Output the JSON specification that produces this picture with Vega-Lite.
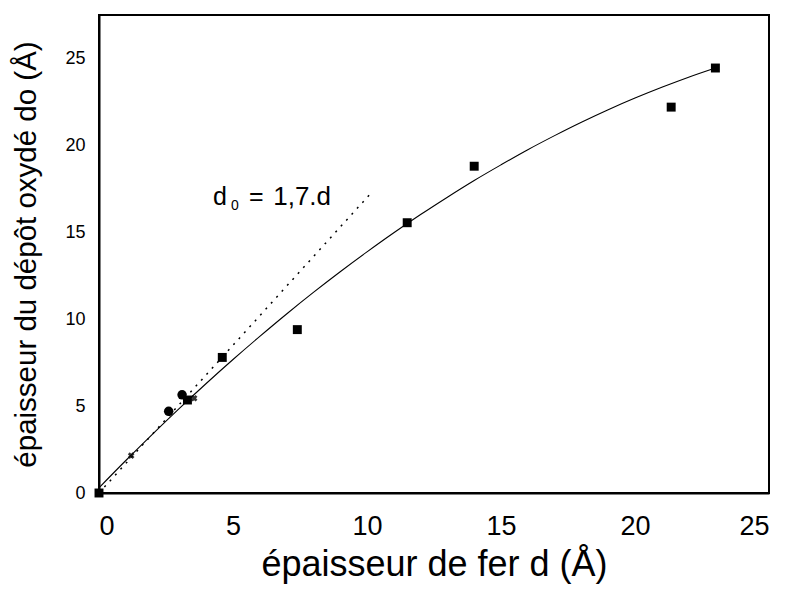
{
  "$schema": "https://vega.github.io/schema/vega-lite/v6.json",
  "width": 670,
  "height": 478,
  "autosize": "none",
  "padding": {"left": 99, "top": 15, "right": 19, "bottom": 98},
  "background": "white",
  "config": {
    "font": "Liberation Sans",
    "view": {"stroke": "black", "strokeWidth": 2}
  },
  "datasets": {
    "squares": [
      {"d": 0, "d0": 0},
      {"d": 3.3, "d0": 5.35},
      {"d": 4.6, "d0": 7.8},
      {"d": 7.4, "d0": 9.4},
      {"d": 11.5, "d0": 15.55},
      {"d": 14.0, "d0": 18.8},
      {"d": 21.35, "d0": 22.2},
      {"d": 23.0, "d0": 24.45}
    ],
    "circles": [
      {"d": 2.6, "d0": 4.7},
      {"d": 3.1, "d0": 5.65}
    ],
    "crosses": [
      {"d": 1.2, "d0": 2.15},
      {"d": 3.55, "d0": 5.45}
    ],
    "fit": [
      {"d": 0, "d0": 0.3}, {"d": 1, "d0": 1.87}, {"d": 2, "d0": 3.39},
      {"d": 3, "d0": 4.87}, {"d": 4, "d0": 6.3}, {"d": 5, "d0": 7.68},
      {"d": 6, "d0": 9.01}, {"d": 7, "d0": 10.3}, {"d": 8, "d0": 11.54},
      {"d": 9, "d0": 12.73}, {"d": 10, "d0": 13.87}, {"d": 11, "d0": 14.97},
      {"d": 12, "d0": 16.02}, {"d": 13, "d0": 17.02}, {"d": 14, "d0": 17.98},
      {"d": 15, "d0": 18.88}, {"d": 16, "d0": 19.75}, {"d": 17, "d0": 20.56},
      {"d": 18, "d0": 21.33}, {"d": 19, "d0": 22.05}, {"d": 20, "d0": 22.72},
      {"d": 21, "d0": 23.34}, {"d": 22, "d0": 23.92}, {"d": 23, "d0": 24.45}
    ],
    "linear": [
      {"d": 0, "d0": 0},
      {"d": 10.2, "d0": 17.34}
    ],
    "label": [
      {"d": 4.25, "d0": 16.55, "t": "d", "s": 25},
      {"d": 4.93, "d0": 16.3, "t": "0", "s": 14},
      {"d": 5.6, "d0": 16.55, "t": "=", "s": 25},
      {"d": 6.5, "d0": 16.55, "t": "1,7.d", "s": 26}
    ],
    "xmajor": [{"d": 5}, {"d": 10}, {"d": 15}, {"d": 20}, {"d": 25}],
    "xminor": [{"d": 2.5}, {"d": 7.5}, {"d": 12.5}, {"d": 17.5}, {"d": 22.5}],
    "ymajor": [{"d0": 5}, {"d0": 10}, {"d0": 15}, {"d0": 20}, {"d0": 25}],
    "yminor": [{"d0": 2.5}, {"d0": 7.5}, {"d0": 12.5}, {"d0": 17.5}, {"d0": 22.5}]
  },
  "encoding": {
    "x": {
      "field": "d", "type": "quantitative",
      "scale": {"domain": [0, 25], "nice": false, "zero": false},
      "axis": {
        "title": "épaisseur de fer d (Å)",
        "values": [0, 5, 10, 15, 20, 25],
        "grid": false,
        "domainColor": "black",
        "domainWidth": 2,
        "ticks": false,
        "tickSize": 0,
        "labelFontSize": 27,
        "labelColor": "black",
        "labelPadding": 20,
        "titleFontSize": 36,
        "titleFontWeight": "normal",
        "titleColor": "black",
        "titlePadding": 8
      }
    },
    "y": {
      "field": "d0", "type": "quantitative",
      "scale": {"domain": [0, 27.5], "nice": false, "zero": false},
      "axis": {
        "title": "épaisseur du dépôt oxydé do (Å)",
        "values": [0, 5, 10, 15, 20, 25],
        "grid": false,
        "domainColor": "black",
        "domainWidth": 2,
        "ticks": false,
        "tickSize": 0,
        "labelFontSize": 18,
        "labelColor": "black",
        "labelPadding": 14,
        "titleFontSize": 29.5,
        "titleFontWeight": "normal",
        "titleColor": "black",
        "titlePadding": 23
      }
    }
  },
  "layer": [
    {
      "data": {"name": "linear"},
      "mark": {"type": "line", "color": "black", "strokeWidth": 1.5, "strokeDash": [2, 6]},
      "encoding": {}
    },
    {
      "data": {"name": "fit"},
      "mark": {"type": "line", "color": "black", "strokeWidth": 1.1, "interpolate": "monotone"},
      "encoding": {}
    },
    {
      "data": {"name": "squares"},
      "mark": {"type": "square", "color": "black", "filled": true, "size": 80, "opacity": 1},
      "encoding": {}
    },
    {
      "data": {"name": "circles"},
      "mark": {"type": "circle", "color": "black", "size": 90, "opacity": 1},
      "encoding": {}
    },
    {
      "data": {"name": "crosses"},
      "mark": {"type": "point", "shape": "cross", "angle": 45, "color": "black", "filled": true, "size": 45, "opacity": 0.8},
      "encoding": {}
    },
    {
      "data": {"name": "label"},
      "mark": {"type": "text", "align": "left", "baseline": "alphabetic", "color": "black"},
      "encoding": {
        "text": {"field": "t"},
        "size": {"field": "s", "type": "quantitative", "scale": null}
      }
    },
    {
      "data": {"name": "xmajor"},
      "mark": {"type": "rule", "color": "black", "strokeWidth": 1.5},
      "encoding": {
        "y": {"datum": 0},
        "y2": {"datum": 0.75}
      }
    },
    {
      "data": {"name": "xminor"},
      "mark": {"type": "rule", "color": "black", "strokeWidth": 1.5},
      "encoding": {
        "y": {"datum": 0},
        "y2": {"datum": 0.42}
      }
    },
    {
      "data": {"name": "ymajor"},
      "mark": {"type": "rule", "color": "black", "strokeWidth": 1.5},
      "encoding": {
        "x": {"datum": 0},
        "x2": {"datum": 0.52}
      }
    },
    {
      "data": {"name": "yminor"},
      "mark": {"type": "rule", "color": "black", "strokeWidth": 1.5},
      "encoding": {
        "x": {"datum": 0},
        "x2": {"datum": 0.3}
      }
    }
  ]
}
